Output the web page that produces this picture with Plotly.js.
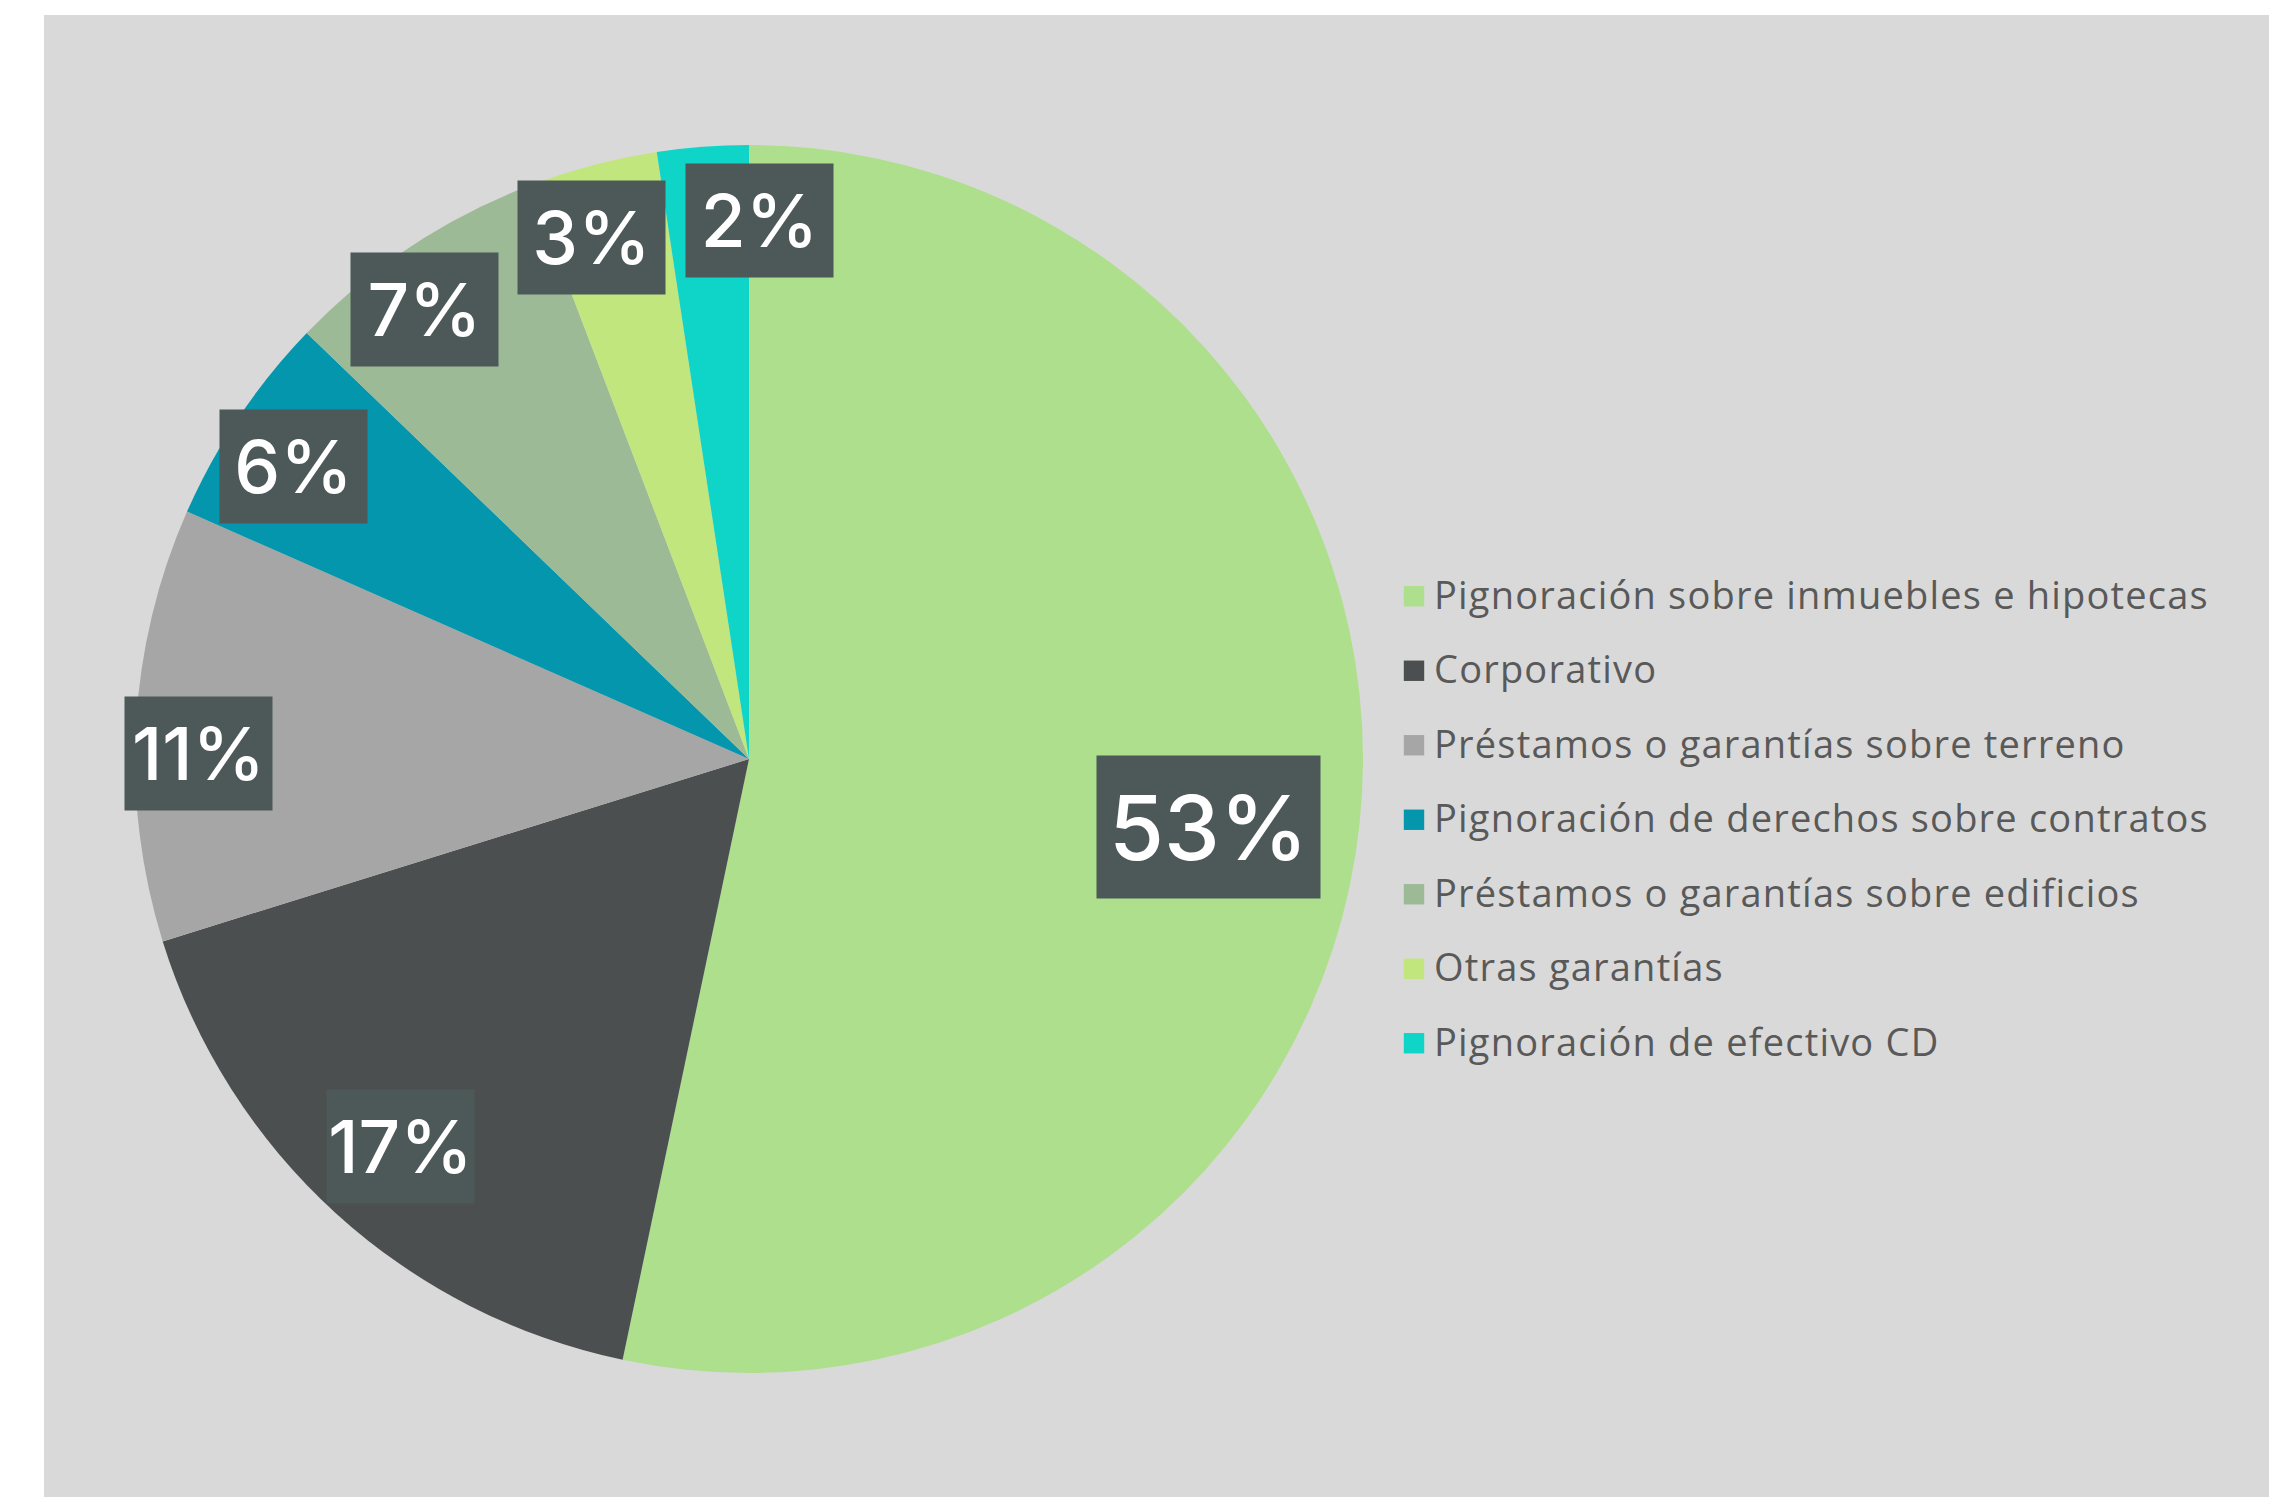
<!DOCTYPE html>
<html>
<head>
<meta charset="utf-8">
<script src="https://cdn.plot.ly/plotly-3.0.1.min.js"></script>
<style>
  html, body { margin: 0; padding: 0; background: #ffffff; width: 2269px; height: 1497px; overflow: hidden; }
  #chart { position: absolute; left: 44px; top: 15px; width: 2225px; height: 1482px; }
</style>
</head>
<body>
<div id="chart"></div>
<script>
// ---- data ----
const labels = [
  "Pignoración sobre inmuebles e hipotecas",
  "Corporativo",
  "Préstamos o garantías sobre terreno",
  "Pignoración de derechos sobre contratos",
  "Préstamos o garantías sobre edificios",
  "Otras garantías",
  "Pignoración de efectivo CD"
];
const values = [53.3, 16.9, 11.4, 5.6, 7.0, 3.4, 2.4];

// ---- style ----
const colors = ["#aedf8c", "#4b4f4f", "#a6a6a6", "#0396ac", "#9dba96", "#c1e67d", "#0ed5c7"];
const labelRadius = [0.757, 0.849, 0.896, 0.882, 0.903, 0.887, 0.877];
const labelAngleShift = [2.5, -0.3, -2.7, -1.1, -2.3, -2.0, 5.4];
const labelBig = [true, false, false, false, false, false, false];

const W = 2225, H = 1482;
const cx = 705, cy = 744, R = 614;

const total = values.reduce((a, b) => a + b, 0);
let cum = 0;
const annotations = values.map((v, i) => {
  const mid = (cum + v / 2) / total;
  cum += v;
  const th = (mid * 360 + labelAngleShift[i]) * Math.PI / 180;
  const px = cx + R * labelRadius[i] * Math.sin(th);
  const py = cy - R * labelRadius[i] * Math.cos(th);
  return {
    xref: "paper", yref: "paper",
    x: px / W, y: 1 - py / H,
    xanchor: "center", yanchor: "middle",
    text: Math.round(v / total * 100) + "%",
    showarrow: false,
    bgcolor: "#4d5858",
    borderpad: 0,
    width: labelBig[i] ? 223 : 147,
    height: labelBig[i] ? 142 : 113,
    font: { family: "Inter, 'Open Sans', sans-serif", size: labelBig[i] ? 89 : 73, color: "#ffffff", weight: 500 }
  };
});

const legendLabels = labels.map(l => '<span style="font-size:38px;letter-spacing:1.2px">' + l + '</span>');

const trace = {
  type: "pie",
  labels: legendLabels,
  values: values,
  sort: false,
  direction: "clockwise",
  rotation: 0,
  marker: { colors: colors, line: { width: 0 } },
  textinfo: "none",
  hoverinfo: "label+percent",
  domain: { x: [(cx - R) / W, (cx + R) / W], y: [1 - (cy + R) / H, 1 - (cy - R) / H] }
};

const layout = {
  width: W, height: H,
  margin: { l: 0, r: 0, t: 0, b: 0 },
  paper_bgcolor: "#d9d9d9",
  plot_bgcolor: "#d9d9d9",
  showlegend: true,
  legend: {
    x: 1350 / W, xanchor: "left",
    y: 1 - 796 / H, yanchor: "middle",
    bgcolor: "rgba(0,0,0,0)",
    font: { family: "'Open Sans', sans-serif", size: 55, color: "#595959" },
    itemwidth: 30
  },
  annotations: annotations
};

Plotly.newPlot("chart", [trace], layout, { displayModeBar: false, staticPlot: true }).then(() => {
  document.querySelectorAll(".legend .legendpoints path").forEach(p => {
    const t = p.getAttribute("transform") || "";
    p.setAttribute("transform", t + " translate(0,9) scale(1.7)");
  });
});
</script>
</body>
</html>
